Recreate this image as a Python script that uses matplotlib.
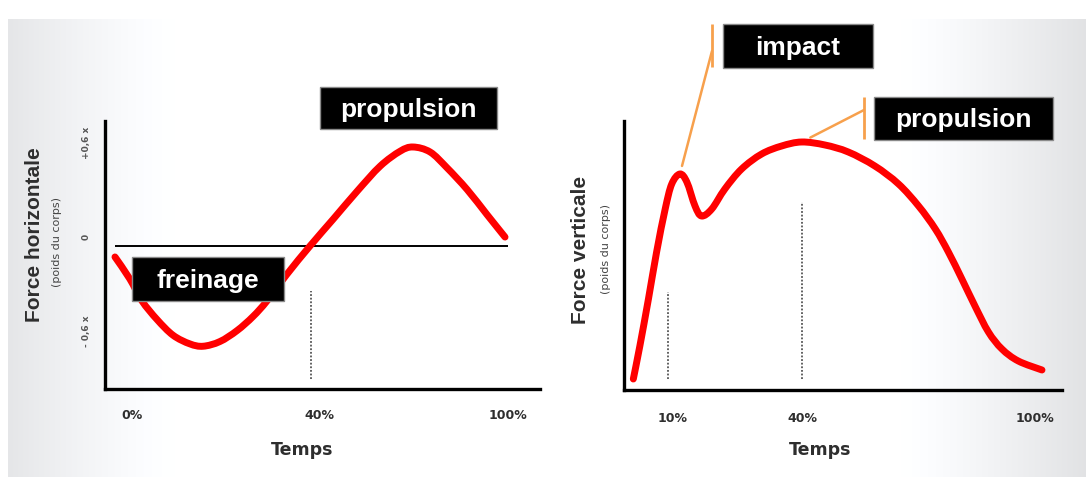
import numpy as np
import matplotlib
matplotlib.use('Agg')
import matplotlib.pyplot as plt
from matplotlib.patches import Rectangle, ConnectionPatch, PathPatch
from matplotlib.path import Path
from matplotlib.transforms import ScaledTranslation

# ---------------- data ----------------
# Horizontal ground reaction force (body weights) vs stance time (%)
h_time = [0.0, 3.8, 6.9, 10.8, 14.9, 19.2, 22.6, 26.9, 31.3, 35.4, 39.0, 44.1,
          50.0, 55.9, 62.1, 68.0, 73.1, 76.4, 80.8, 85.1, 90.3, 95.4, 100.0]
h_force = [-0.07, -0.21, -0.35, -0.47, -0.57, -0.625, -0.64, -0.61, -0.54, -0.45,
           -0.35, -0.18, 0.0, 0.17, 0.35, 0.51, 0.605, 0.632, 0.60, 0.50, 0.36,
           0.20, 0.057]
h_xtick_pos = [4.4, 52.3, 100.8]
h_xtick_labels = ['0%', '40%', '100%']
h_ytick_pos = [-0.6, 0.0, 0.6]
h_ytick_labels = ['- 0,6 x', '0', '+0,6 x']
h_marker_x = 50.3
h_marker_y = (-0.85, -0.29)

# Vertical ground reaction force (body weights) vs stance time (%)
v_time = [0.0, 1.6, 3.7, 5.7, 7.8, 9.4, 11.4, 13.1, 15.1, 16.7, 19.2, 22.4, 26.5,
          31.4, 36.3, 41.2, 46.9, 52.6, 59.1, 64.9, 69.8, 73.9, 77.1, 80.4, 83.6,
          86.9, 90.2, 94.2, 100.0]
v_force = [0.11, 0.44, 0.91, 1.38, 1.81, 2.06, 2.16, 2.08, 1.84, 1.74, 1.81, 2.01,
           2.21, 2.36, 2.44, 2.48, 2.45, 2.38, 2.24, 2.06, 1.84, 1.61, 1.38, 1.11,
           0.84, 0.58, 0.41, 0.29, 0.20]
v_xtick_pos = [9.6, 41.5, 98.3]
v_xtick_labels = ['10%', '40%', '100%']
v_marker_x = [8.5, 41.3]
v_marker_top = [0.98, 1.88]
v_marker_bottom = 0.11
v_impact_idx = 6
v_peak_idx = 15

W, H = 1090, 481
fig = plt.figure(figsize=(W / 100, H / 100), dpi=100)
fig.patch.set_facecolor('white')

# ---------------- background panel (decoration) ----------------
bg = fig.add_axes([0, 0, 1, 1], zorder=-10)
bg.set_axis_off()
xx = np.arange(W)[None, :].astype(float)
yy = np.arange(H)[:, None].astype(float)
left_fade = np.clip((175 - xx) / 165, 0, 1) ** 1.3
right_fade = np.clip((xx - 900) / 185, 0, 1) ** 1.2
shade = 1.0 - 0.10 * left_fade - 0.115 * right_fade + 0 * yy
panel = (xx >= 8) & (xx <= 1085) & (yy >= 20) & (yy <= 477)
shade = np.where(panel, shade, 1.0)
rgb = np.dstack([shade, np.minimum(shade * 1.004, 1.0), np.minimum(shade * 1.012, 1.0)])
bg.imshow(rgb, extent=(0, W, H, 0), aspect='auto', interpolation='bilinear')
bg.set_xlim(0, W)
bg.set_ylim(H, 0)

RED = '#ff0000'
ORANGE = '#f7a04c'
TXT = '#2e2e2e'


def smooth_path(xs, ys):
    """Cubic Bezier path passing through every read point (Catmull-Rom tangents)."""
    p = np.column_stack([xs, ys]).astype(float)
    n = len(p)
    verts = [p[0]]
    codes = [Path.MOVETO]
    for i in range(n - 1):
        p0 = p[i - 1] if i > 0 else p[i]
        p1, p2 = p[i], p[i + 1]
        p3 = p[i + 2] if i + 2 < n else p[i + 1]
        c1 = p1 + (p2 - p0) / 6.0
        c2 = p2 - (p3 - p1) / 6.0
        verts += [c1, c2, p2]
        codes += [Path.CURVE4] * 3
    return Path(verts, codes)


def style_axes(ax):
    ax.set_facecolor('none')
    for s in ['top', 'right']:
        ax.spines[s].set_visible(False)
    for s in ['left', 'bottom']:
        ax.spines[s].set_linewidth(2.4)
        ax.spines[s].set_color('black')
        ax.spines[s].set_capstyle('projecting')


def draw_curve(ax, xs, ys):
    ax.add_patch(PathPatch(smooth_path(xs, ys), fill=False, edgecolor=RED, lw=5,
                           capstyle='round', joinstyle='round', zorder=3))


# ---------------- left: horizontal force ----------------
axL = fig.add_axes([105 / W, 1 - 390 / H, 435 / W, 268 / H])
style_axes(axL)
axL.set_xlim(-2.56, 108.97)
axL.set_ylim(-0.913, 0.798)
axL.hlines(0, 0, 100.8, color='black', lw=1.4, zorder=2)
axL.vlines(h_marker_x, h_marker_y[0], h_marker_y[1], color='#555555', lw=1.3,
           linestyles=(0, (1, 1)), zorder=2)
draw_curve(axL, h_time, h_force)
axL.set_xticks(h_xtick_pos)
axL.set_xticklabels(h_xtick_labels, fontsize=9, fontweight='bold', color=TXT,
                    family='DejaVu Sans')
axL.set_yticks(h_ytick_pos)
axL.set_yticklabels(h_ytick_labels, rotation=90, va='center', fontsize=6.5,
                    color='#555555', family='DejaVu Sans', fontweight='bold')
axL.tick_params(axis='x', length=0, pad=14)
axL.tick_params(axis='y', length=0, pad=10)
for lab in axL.get_yticklabels():
    lab.set_transform(lab.get_transform() + ScaledTranslation(0, 0.10, fig.dpi_scale_trans))
axL.set_xlabel('Temps', fontsize=12.5, fontweight='bold', color=TXT, family='DejaVu Sans')
axL.xaxis.set_label_coords((302 - 105) / 435, (390 - 441) / 268)

# ---------------- right: vertical force ----------------
axR = fig.add_axes([624 / W, 1 - 391 / H, 438 / W, 269 / H])
style_axes(axR)
axR.set_xlim(-2.28, 104.9)
axR.set_ylim(0, 2.69)
for mx, mt in zip(v_marker_x, v_marker_top):
    axR.vlines(mx, v_marker_bottom, mt, color='#555555', lw=1.3,
               linestyles=(0, (1, 1)), zorder=2)
draw_curve(axR, v_time, v_force)
axR.set_xticks(v_xtick_pos)
axR.set_xticklabels(v_xtick_labels, fontsize=9, fontweight='bold', color=TXT,
                    family='DejaVu Sans')
axR.set_yticks([])
axR.tick_params(axis='x', length=0, pad=15)
axR.set_xlabel('Temps', fontsize=12.5, fontweight='bold', color=TXT, family='DejaVu Sans')
axR.xaxis.set_label_coords((820 - 624) / 438, (391 - 441) / 269)

# ---------------- axis titles ----------------
fig.text(35 / W, 1 - 235 / H, 'Force horizontale', rotation=90, ha='center', va='center',
         fontsize=15, fontweight='bold', color=TXT, family='Liberation Sans')
fig.text(57 / W, 1 - 242 / H, '(poids du corps)', rotation=90, ha='center', va='center',
         fontsize=8, color='#444444', family='DejaVu Sans')
fig.text(581 / W, 1 - 250 / H, 'Force verticale', rotation=90, ha='center', va='center',
         fontsize=15, fontweight='bold', color=TXT, family='Liberation Sans')
fig.text(606 / W, 1 - 249 / H, '(poids du corps)', rotation=90, ha='center', va='center',
         fontsize=8, color='#444444', family='DejaVu Sans')

# ---------------- overlay: label boxes & connectors ----------------
ov = fig.add_axes([0, 0, 1, 1], zorder=10)
ov.set_axis_off()
ov.patch.set_alpha(0)
ov.set_xlim(0, W)
ov.set_ylim(H, 0)

boxes = [
    ('propulsion', 320, 88, 177, 42),
    ('freinage', 132, 258, 152, 44),
    ('impact', 723, 25, 150, 44),
    ('propulsion', 874, 98, 179, 43),
]
for label, x0, y0, w, h in boxes:
    ov.add_patch(Rectangle((x0, y0), w, h, facecolor='black', edgecolor='#8a8a8a',
                           lw=1.0, zorder=5))
    ov.text(x0 + w / 2, y0 + h / 2 + 1, label, ha='center', va='center', color='white',
            fontsize=19, fontweight='bold', family='Liberation Sans', zorder=6)

# orange brackets
ov.plot([712, 712], [25, 68], color=ORANGE, lw=2.0, zorder=4, solid_capstyle='butt')
ov.plot([864, 864], [98, 140], color=ORANGE, lw=2.0, zorder=4, solid_capstyle='butt')
con1 = ConnectionPatch(xyA=(712, 52), coordsA=ov.transData,
                       xyB=(v_time[v_impact_idx], v_force[v_impact_idx]), coordsB=axR.transData,
                       color=ORANGE, lw=1.8, shrinkB=6, zorder=4)
con2 = ConnectionPatch(xyA=(864, 111), coordsA=ov.transData,
                       xyB=(v_time[v_peak_idx], v_force[v_peak_idx]), coordsB=axR.transData,
                       color=ORANGE, lw=1.8, shrinkB=7, zorder=4)
for c in (con1, con2):
    c.set_clip_on(False)
    ov.add_artist(c)

fig.savefig('out.png', dpi=100)
